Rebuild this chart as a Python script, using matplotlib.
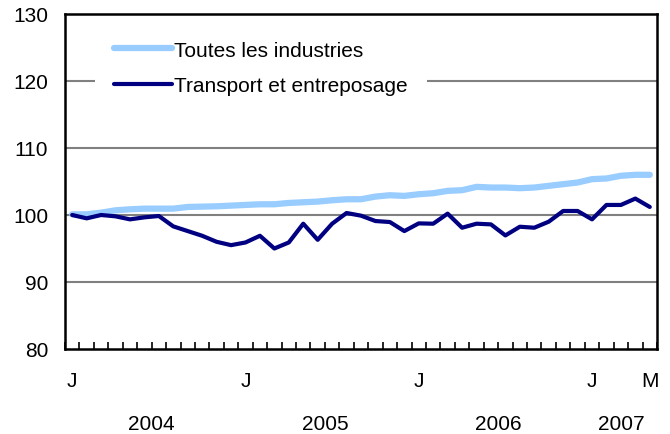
import matplotlib
matplotlib.use("Agg")
import matplotlib.pyplot as plt
import matplotlib.transforms as mtransforms

plt.rcParams['font.family'] = ['Liberation Sans', 'DejaVu Sans']

series_names = ["Toutes les industries", "Transport et entreposage"]
toutes = [100.1, 100.1, 100.35, 100.7, 100.85, 100.95, 100.95, 100.95, 101.2, 101.25,
          101.3, 101.4, 101.5, 101.6, 101.6, 101.8, 101.9, 102.0, 102.2, 102.35,
          102.35, 102.75, 102.95, 102.85, 103.1, 103.25, 103.6, 103.7, 104.2, 104.1,
          104.1, 104.0, 104.1, 104.35, 104.6, 104.85, 105.35, 105.45, 105.85, 106.0, 106.0]
transport = [100.0, 99.5, 100.0, 99.8, 99.35, 99.65, 99.85, 98.3, 97.6, 96.9,
             96.0, 95.5, 95.9, 96.9, 95.0, 95.9, 98.7, 96.3, 98.7, 100.3,
             99.9, 99.1, 98.95, 97.6, 98.75, 98.7, 100.2, 98.1, 98.7, 98.6,
             96.95, 98.25, 98.1, 99.0, 100.6, 100.6, 99.35, 101.5, 101.5, 102.45, 101.2]
month_labels = ["J", "J", "J", "J", "M"]
month_label_idx = [0, 12, 24, 36, 40]
year_labels = ["2004", "2005", "2006", "2007"]
year_label_pos = [5.5, 17.5, 29.5, 38]
y_ticks = [80, 90, 100, 110, 120, 130]

FS = 15

fig = plt.figure(figsize=(6.7, 4.35), dpi=100)
ax = fig.add_axes([65/670, 1 - 350/435, 592/670, 335/435])

x = list(range(len(toutes)))
ax.plot(x, toutes, color="#99CCFF", lw=4.5, solid_capstyle="round", label=series_names[0], zorder=3)
ax.plot(x, transport, color="#000080", lw=3.0, solid_capstyle="round", label=series_names[1], zorder=4)

ax.set_xlim(-0.5, len(x) - 0.5)
ax.set_ylim(80, 130)
ax.set_yticks(y_ticks)
ax.set_yticklabels([str(v) for v in y_ticks], fontsize=FS)
ax.tick_params(axis='y', length=0, pad=12)
for v in y_ticks[1:-1]:
    ax.axhline(v, color="#808080", lw=1.5, zorder=1)

# category boundary ticks
ax.set_xticks([i - 0.5 for i in range(len(x) + 1)])
ax.set_xticklabels([])
ax.tick_params(axis='x', direction='in', length=5, width=1.2, color='black')

for s in ax.spines.values():
    s.set_linewidth(1.8)
    s.set_color("black")

trans = mtransforms.blended_transform_factory(ax.transData, ax.transAxes)
for lab, idx in zip(month_labels, month_label_idx):
    ax.text(idx, -32/335, lab, transform=trans, ha='center', va='center', fontsize=FS)
for lab, pos in zip(year_labels, year_label_pos):
    ax.text(pos, -75/335, lab, transform=trans, ha='center', va='center', fontsize=FS)

leg = ax.legend(loc='upper left', bbox_to_anchor=(30/592, 1 - 8/335), fontsize=FS,
                frameon=True, fancybox=False, handlelength=2.8, handletextpad=0.1,
                labelspacing=0.8, borderpad=0.9, borderaxespad=0)
leg.get_frame().set_facecolor("white")
leg.get_frame().set_edgecolor("none")
leg.get_frame().set_alpha(1)
leg.set_zorder(5)

fig.savefig("out.png", dpi=100)
